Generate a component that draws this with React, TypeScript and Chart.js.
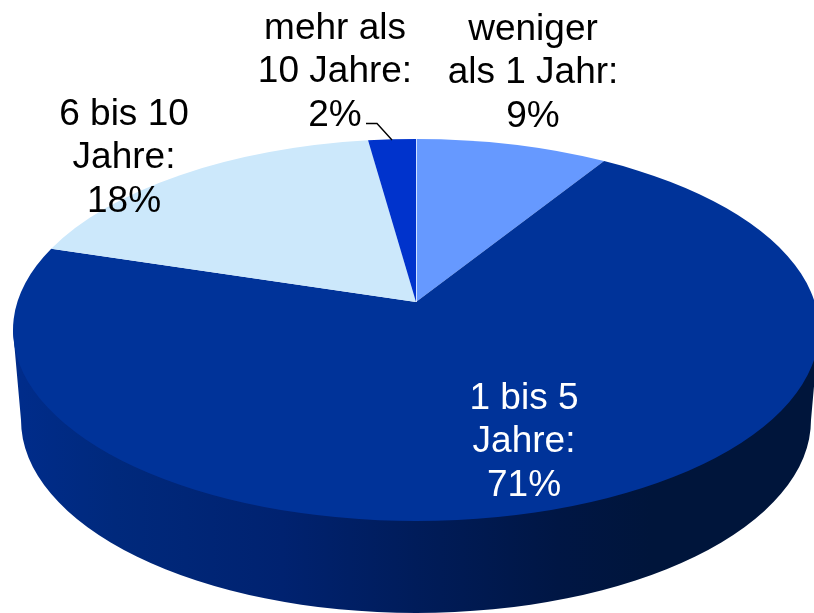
import React, { useEffect, useRef } from "react";
import { Chart, registerables } from "chart.js";

Chart.register(...registerables);

const categories = ["weniger als 1 Jahr", "1 bis 5 Jahre", "6 bis 10 Jahre", "mehr als 10 Jahre"];
const shares = [8.9, 70.9, 18.0, 2.2];
const sliceColors = ["#6699FF", "#003399", "#CCE8FB", "#0033CC"];
const labelLines = [
  ["weniger", "als 1 Jahr:", "9%"],
  ["1 bis 5", "Jahre:", "71%"],
  ["6 bis 10", "Jahre:", "18%"],
  ["mehr als", "10 Jahre:", "2%"],
];
const labelColors = ["#000000", "#FFFFFF", "#000000", "#000000"];
const labelCenters = [
  [533, 30],
  [524, 399],
  [124, 115],
  [335, 29],
];

// Perspective of the tilted disc
const TOP = { cx: 416, cy: 330, rx: 403, ry: 191 };
const BOTTOM = { cx: 416, cy: 420, rx: 395, ry: 193 };
const APEX_Y = 302;
const K = (TOP.cy - APEX_Y) / TOP.ry;

// Projective map of the unit circle onto itself that moves its centre to the apex
const projectAngle = (a: number) => {
  const x = Math.cos(a);
  const y = Math.sin(a);
  const d = 1 - K * y;
  const px = (x * Math.sqrt(1 - K * K)) / d;
  const py = (y - K) / d;
  return Math.atan2(py, px);
};

const pie3d = {
  id: "pie3d",
  beforeDatasetsDraw(chart: any) {
    const ctx = chart.ctx as CanvasRenderingContext2D;
    const arcs = chart.getDatasetMeta(0).data as any[];

    // Side wall
    const grad = ctx.createLinearGradient(BOTTOM.cx - BOTTOM.rx, 0, BOTTOM.cx + BOTTOM.rx, 0);
    grad.addColorStop(0, "#002C8A");
    grad.addColorStop(0.12, "#00297C");
    grad.addColorStop(0.33, "#002270");
    grad.addColorStop(0.5, "#001C5A");
    grad.addColorStop(0.68, "#001644");
    grad.addColorStop(0.8, "#00153B");
    grad.addColorStop(1, "#00153B");
    ctx.save();
    ctx.fillStyle = grad;
    ctx.beginPath();
    ctx.moveTo(TOP.cx - TOP.rx, TOP.cy);
    ctx.lineTo(BOTTOM.cx - BOTTOM.rx, BOTTOM.cy);
    ctx.ellipse(BOTTOM.cx, BOTTOM.cy, BOTTOM.rx, BOTTOM.ry, 0, Math.PI, 0, true);
    ctx.lineTo(TOP.cx + TOP.rx, TOP.cy);
    ctx.closePath();
    ctx.fill();

    // Top face, each slice from the angles the library computed
    arcs.forEach((arc) => {
      const { startAngle, endAngle } = arc.getProps(["startAngle", "endAngle"], true);
      const t0 = projectAngle(startAngle);
      let t1 = projectAngle(endAngle);
      if (t1 <= t0) t1 += Math.PI * 2;
      ctx.beginPath();
      ctx.moveTo(TOP.cx, APEX_Y);
      ctx.ellipse(TOP.cx, TOP.cy, TOP.rx, TOP.ry, 0, t0, t1);
      ctx.closePath();
      ctx.fillStyle = arc.options.backgroundColor;
      ctx.fill();
    });

    // Light seam where the series starts
    ctx.strokeStyle = "rgba(255,255,255,0.7)";
    ctx.lineWidth = 1;
    ctx.beginPath();
    ctx.moveTo(TOP.cx + 0.5, APEX_Y);
    ctx.lineTo(TOP.cx + 0.5, TOP.cy - TOP.ry);
    ctx.stroke();

    // Leader line
    ctx.strokeStyle = "#000000";
    ctx.lineWidth = 1.4;
    ctx.beginPath();
    ctx.moveTo(366, 123.5);
    ctx.lineTo(377, 123.5);
    ctx.lineTo(392, 140);
    ctx.stroke();

    // Data labels
    ctx.font = '37px "Liberation Sans", Arial, sans-serif';
    ctx.textAlign = "center";
    ctx.textBaseline = "middle";
    labelLines.forEach((lines, i) => {
      ctx.fillStyle = labelColors[i];
      lines.forEach((line, j) => {
        ctx.fillText(line, labelCenters[i][0], labelCenters[i][1] + j * 43.2);
      });
    });
    ctx.restore();
    return false;
  },
};

export default function App() {
  const ref = useRef<HTMLCanvasElement>(null);
  useEffect(() => {
    const chart = new Chart(ref.current!, {
      type: "pie",
      data: {
        labels: categories,
        datasets: [{ data: shares, backgroundColor: sliceColors, borderWidth: 0 }],
      },
      options: {
        animation: false,
        responsive: false,
        plugins: { legend: { display: false }, tooltip: { enabled: false } },
      },
      plugins: [pie3d],
    });
    return () => chart.destroy();
  }, []);
  return (
    <canvas
      ref={ref}
      width={814}
      height={613}
      style={{ position: "absolute", left: 0, top: 0, display: "block" }}
    />
  );
}
